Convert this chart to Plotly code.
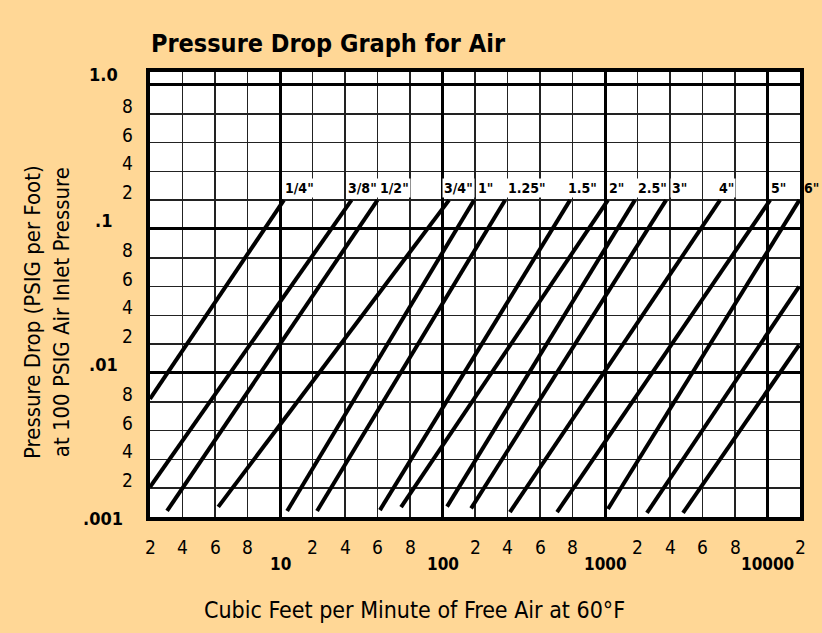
import math
import plotly.graph_objects as go

# ---------------- data ----------------
pipe_sizes = ['1/4"', '3/8"', '1/2"', '3/4"', '1"', '1.25"', '1.5"', '2"', '2.5"', '3"', '4"', '5"', '6"', '', '']
flow_low = [2, 2, 3.05, 6.2, 12.2, 22.8, 61.5, 74.5, 114, 188, 415, 705, 1090, 2580, 4800]
drop_low = [0.0082, 0.00208, 0.00121, 0.00135, 0.00121, 0.00121, 0.00124, 0.00134, 0.00136,
            0.0013, 0.00117, 0.00117, 0.00128, 0.00114, 0.00114]
flow_high = [11.2, 44, 60, 120, 197, 385, 785, 1090, 1920, 3760, 7080, 10800, 19800, 19700, 19700]
drop_high = [0.2] * 13 + [0.060, 0.0197]

x_minor_vals = [2, 4, 6, 8, 20, 40, 60, 80, 200, 400, 600, 800,
                2000, 4000, 6000, 8000, 20000]
x_minor_text = ['2', '4', '6', '8'] * 4 + ['2']
x_decade_vals = [10, 100, 1000, 10000]
x_decade_text = ['10', '100', '1000', '10000']

y_minor_vals = [0.8, 0.6, 0.4, 0.2, 0.08, 0.06, 0.04, 0.02, 0.008, 0.006, 0.004, 0.002]
y_minor_text = ['8', '6', '4', '2'] * 3
y_decade_vals = [1.0, 0.1, 0.01, 0.001]
y_decade_text = ['1.0', '.1', '.01', '.001']

title_text = 'Pressure Drop Graph for Air'
y_title = 'Pressure Drop (PSIG per Foot)<br>at 100 PSIG Air Inlet Pressure'
x_title = 'Cubic Feet per Minute of Free Air at 60°F'


# chart's own scale: each decade is split into five equal steps (1,2,4,6,8,10)
def to_pos(v):
    d = math.floor(math.log10(v) + 1e-9)
    m = v / 10 ** d
    f = m - 1 if m < 2 else m / 2
    return 5 * d + f


NARROW = 'DejaVu Sans Condensed, Liberation Sans Narrow, Arial Narrow, sans-serif'
BG = '#FFD796'
W, H = 822, 633
ML, MR, MT, MB = 150, 22, 72, 116
PW, PH = W - ML - MR, H - MT - MB

# small horizontal nudges (px) of the size labels, as placed in the reference
label_nudge = [-1, -6, 0, -7, 2, 1, -4, -1, 1, 4, -3, -1, 3, 0, 0]

fig = go.Figure()
for i in range(len(flow_low)):
    fig.add_trace(go.Scatter(
        x=[to_pos(flow_low[i]), to_pos(flow_high[i])],
        y=[to_pos(drop_low[i]), to_pos(drop_high[i])],
        mode='lines', line=dict(color='black', width=4),
        showlegend=False, hoverinfo='skip'))

annotations = []
# pipe size labels
for i, lab in enumerate(pipe_sizes):
    if not lab:
        continue
    outside = flow_high[i] >= 19000
    annotations.append(dict(
        x=to_pos(flow_high[i]), y=to_pos(drop_high[i]), xref='x', yref='y',
        text=lab, showarrow=False, xanchor='left', yanchor='bottom',
        xshift=label_nudge[i], yshift=2,
        bgcolor='rgba(0,0,0,0)' if outside else 'white', borderpad=1,
        font=dict(family=NARROW, size=14, color='black', weight='bold')))

# x tick labels
for v, t in zip(x_minor_vals, x_minor_text):
    annotations.append(dict(
        x=to_pos(v), y=0, xref='x', yref='paper', text=t, showarrow=False,
        xanchor='center', yanchor='middle', yshift=-30,
        font=dict(family=NARROW, size=19, color='black')))
for v, t in zip(x_decade_vals, x_decade_text):
    annotations.append(dict(
        x=to_pos(v), y=0, xref='x', yref='paper', text=t, showarrow=False,
        xanchor='center', yanchor='middle', yshift=-47,
        font=dict(family=NARROW, size=17, color='black', weight='bold')))

# y tick labels
for v, t in zip(y_minor_vals, y_minor_text):
    annotations.append(dict(
        x=0, y=to_pos(v), xref='paper', yref='y', text=t, showarrow=False,
        xanchor='right', yanchor='middle', xshift=-15, yshift=8,
        font=dict(family=NARROW, size=19, color='black')))
for v, t in zip(y_decade_vals, y_decade_text):
    shift = 10 if v == 1.0 else (-1 if v == 0.001 else 8)
    annotations.append(dict(
        x=0, y=to_pos(v), xref='paper', yref='y', text=t, showarrow=False,
        xanchor='center', yanchor='middle', xshift=-47, yshift=shift,
        font=dict(family=NARROW, size=18, color='black', weight='bold')))

# axis titles
annotations.append(dict(
    x=-(ML - 47) / PW, y=(MT + PH - 312) / PH, xref='paper', yref='paper',
    text=y_title, showarrow=False, textangle=-90, xanchor='center', yanchor='middle',
    font=dict(family=NARROW, size=22, color='black')))
annotations.append(dict(
    x=(414 - ML) / PW, y=-(610 - MT - PH) / PH, xref='paper', yref='paper',
    text=x_title, showarrow=False, xanchor='center', yanchor='middle',
    font=dict(family=NARROW, size=23, color='black')))

axis_common = dict(
    tickmode='array', showticklabels=False, ticks='', zeroline=False,
    showgrid=True, gridcolor='black', gridwidth=3,
    showline=True, mirror=True, linecolor='black', linewidth=4,
    fixedrange=True)

fig.update_layout(
    width=W, height=H,
    margin=dict(l=ML, r=MR, t=MT, b=MB),
    paper_bgcolor=BG, plot_bgcolor='white',
    title=dict(text=title_text, x=151 / W, xanchor='left', xref='container',
               y=1 - 43 / H, yanchor='middle', yref='container',
               font=dict(family=NARROW, size=25, color='black', weight='bold')),
    xaxis=dict(range=[1, 21], tickvals=[to_pos(v) for v in x_decade_vals],
               minor=dict(tickmode='array', tickvals=[to_pos(v) for v in x_minor_vals],
                          showgrid=True, gridcolor='#222222', gridwidth=1.5),
               **axis_common),
    yaxis=dict(range=[-15, 0.45], tickvals=[to_pos(v) for v in y_decade_vals],
               minor=dict(tickmode='array', tickvals=[to_pos(v) for v in y_minor_vals],
                          showgrid=True, gridcolor='#222222', gridwidth=1.5),
               **axis_common),
    annotations=annotations,
    showlegend=False,
)

fig.write_html('out.html',
               config={'displayModeBar': False, 'staticPlot': True},
               post_script="document.body.style.margin='0';"
                           "document.body.style.background='" + BG + "';")
